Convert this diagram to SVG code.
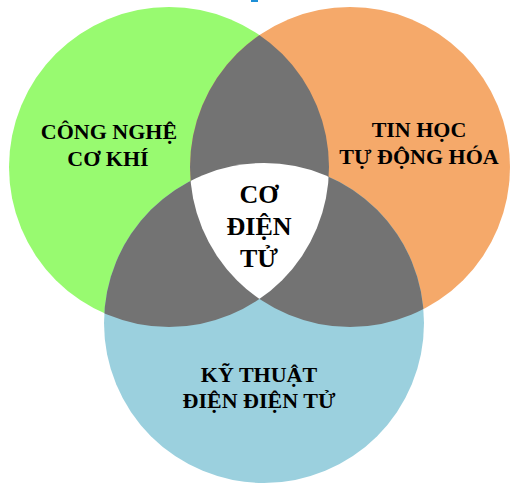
<svg xmlns="http://www.w3.org/2000/svg" width="513" height="490" viewBox="0 0 513 490">
  <style>
    .lbl { font-family: "Liberation Serif", "Times New Roman", serif; font-weight: bold; font-size: 22px; fill: #000; text-anchor: middle; }
    .ctr { font-size: 26px; }
    .ovl { fill: #737373; }
  </style>
  <defs>
    <circle id="cg" cx="169" cy="167" r="160"/>
    <circle id="co" cx="350" cy="167" r="160"/>
    <circle id="cb" cx="264" cy="323" r="160"/>
    <clipPath id="clipG"><use href="#cg"/></clipPath>
    <clipPath id="clipO"><use href="#co"/></clipPath>
    <clipPath id="clipB"><use href="#cb"/></clipPath>
  </defs>
  <rect width="513" height="490" fill="#ffffff"/>
  <rect x="251" y="0" width="7" height="2" fill="#1e8fd6"/>

  <g id="node-cong-nghe-co-khi">
    <use href="#cg" fill="#98fa70"/>
    <text class="lbl" x="109" y="139">CÔNG NGHỆ</text>
    <text class="lbl" x="108" y="166">CƠ KHÍ</text>
  </g>
  <g id="node-tin-hoc-tu-dong-hoa">
    <use href="#co" fill="#f5a96a"/>
    <text class="lbl" x="419" y="137">TIN HỌC</text>
    <text class="lbl" x="419" y="164">TỰ ĐỘNG HÓA</text>
  </g>
  <g id="node-ky-thuat-dien-dien-tu">
    <use href="#cb" fill="#9bd0de"/>
    <text class="lbl" x="259" y="382">KỸ THUẬT</text>
    <text class="lbl" x="259" y="408">ĐIỆN ĐIỆN TỬ</text>
  </g>

  <g id="overlaps">
    <g clip-path="url(#clipO)"><use href="#cg" class="ovl"/></g>
    <g clip-path="url(#clipB)"><use href="#cg" class="ovl"/></g>
    <g clip-path="url(#clipB)"><use href="#co" class="ovl"/></g>
  </g>

  <g id="node-co-dien-tu">
    <g clip-path="url(#clipO)"><g clip-path="url(#clipB)"><use href="#cg" fill="#ffffff"/></g></g>
    <text class="lbl ctr" x="259" y="203">CƠ</text>
    <text class="lbl ctr" x="259" y="235">ĐIỆN</text>
    <text class="lbl ctr" x="259" y="267">TỬ</text>
  </g>

  <g id="connectors"/>
</svg>
